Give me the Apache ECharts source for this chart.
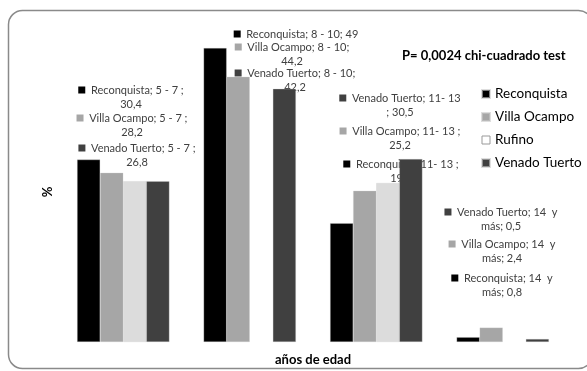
<!DOCTYPE html>
<html>
<head>
<meta charset="utf-8">
<script src="https://cdn.jsdelivr.net/npm/echarts@6/dist/echarts.min.js"></script>
<style>
  html, body { margin: 0; padding: 0; background: #fff; }
  #chart { width: 587px; height: 371px; }
</style>
</head>
<body>
<div id="chart"></div>
<script>
// age groups and percentages per city (null = no bar in the original)
const categories = ['5 - 7', '8 - 10', '11- 13', '14  y más'];
const seriesNames = ['Reconquista', 'Villa Ocampo', 'Rufino', 'Venado Tuerto'];
const reconquista = [30.4, 49, 19.8, 0.8];
const villaOcampo = [28.2, 44.2, 25.2, 2.4];
const rufino = [26.8, null, 26.5, null];
const venadoTuerto = [26.8, 42.2, 30.5, 0.5];
const colors = ['#000000', '#a6a6a6', '#dcdcdc', '#404040'];

// floating data labels (Excel style): [series, category, text template, center x, top y]
const labelBoxes = [
  [0, 0, '{k}Reconquista; 5 - 7 ;\n{v}', 131, 83],
  [1, 0, '{k}Villa Ocampo; 5 - 7 ;\n{v}', 132, 111],
  [3, 0, '{k}Venado Tuerto; 5 - 7 ;\n{v}', 137, 141],
  [0, 1, '{k}Reconquista; 8 - 10; {v}', 296, 27],
  [1, 1, '{k}Villa Ocampo; 8 - 10;\n{v}', 292, 40],
  [3, 1, '{k}Venado Tuerto; 8 - 10;\n{v}', 295, 66],
  [3, 2, '{k}Venado Tuerto; 11- 13\n; {v}', 400, 91],
  [1, 2, '{k}Villa Ocampo; 11- 13 ;\n{v}', 400, 124],
  [0, 2, '{k}Reconquista; 11- 13 ;\n{v}', 401, 157],
  [3, 3, '{k}Venado Tuerto; 14  y\nmás; {v}', 501, 205],
  [1, 3, '{k}Villa Ocampo; 14  y\nmás; {v}', 502, 237],
  [0, 3, '{k}Reconquista; 14  y\nmás; {v}', 502, 271]
];

const values = [reconquista, villaOcampo, rufino, venadoTuerto];
const FONT = 'Lato, "Open Sans", sans-serif';

const chart = echarts.init(document.getElementById('chart'));

const fmt = v => String(v).replace('.', ',');

const labelGraphics = labelBoxes.map(([s, c, tpl, x, y]) => {
  const txt = tpl.replace('{k}', '{k|}  ').replace('{v}', fmt(values[s][c]));
  return {
    type: 'text',
    x: x,
    y: y,
    silent: true,
    style: {
      text: txt,
      align: 'center',
      verticalAlign: 'top',
      fill: '#404040',
      font: '11px ' + FONT,
      lineHeight: 14,
      rich: {
        k: { width: 7, height: 7, backgroundColor: colors[s] }
      }
    }
  };
});

chart.setOption({
  animation: false,
  textStyle: { fontFamily: FONT },
  title: {
    text: 'P= 0,0024 chi-cuadrado test',
    left: 397,
    top: 44,
    textStyle: { fontSize: 13, fontWeight: 'bold', color: '#000' }
  },
  legend: {
    orient: 'vertical',
    left: 476,
    top: 82,
    itemWidth: 8,
    itemHeight: 8,
    itemGap: 9,
    icon: 'rect',
    textStyle: { fontSize: 13.5, color: '#000' },
    data: seriesNames.map((n, i) => i === 2
      ? { name: n, itemStyle: { color: '#ffffff', borderColor: '#999', borderWidth: 1 } }
      : { name: n })
  },
  grid: { left: 60, right: 21, top: 42, bottom: 25 },
  xAxis: {
    type: 'category',
    data: categories,
    name: 'años de edad',
    nameLocation: 'middle',
    nameGap: 11,
    nameTextStyle: { fontSize: 13, fontWeight: 'bold', color: '#000' },
    axisLine: { show: false },
    axisTick: { show: false },
    axisLabel: { show: false }
  },
  yAxis: {
    type: 'value',
    min: 0,
    max: 50,
    name: '%',
    nameLocation: 'middle',
    nameGap: 6,
    nameRotate: 90,
    nameTextStyle: { fontSize: 13, fontWeight: 'bold', color: '#000' },
    axisLine: { show: false },
    axisTick: { show: false },
    axisLabel: { show: false },
    splitLine: { show: false }
  },
  series: seriesNames.map((n, i) => ({
    name: n,
    type: 'bar',
    data: values[i],
    barGap: '0%',
    barCategoryGap: '27%',
    itemStyle: { color: colors[i], borderColor: 'rgba(200,200,200,0.6)', borderWidth: 0.5 }
  })),
  graphic: [
    {
      type: 'rect',
      silent: true,
      shape: { x: 8.5, y: 10.5, width: 584, height: 358, r: 14 },
      style: { fill: 'none', stroke: '#8a8a8a', lineWidth: 1.5 }
    }
  ].concat(labelGraphics)
});
</script>
</body>
</html>
